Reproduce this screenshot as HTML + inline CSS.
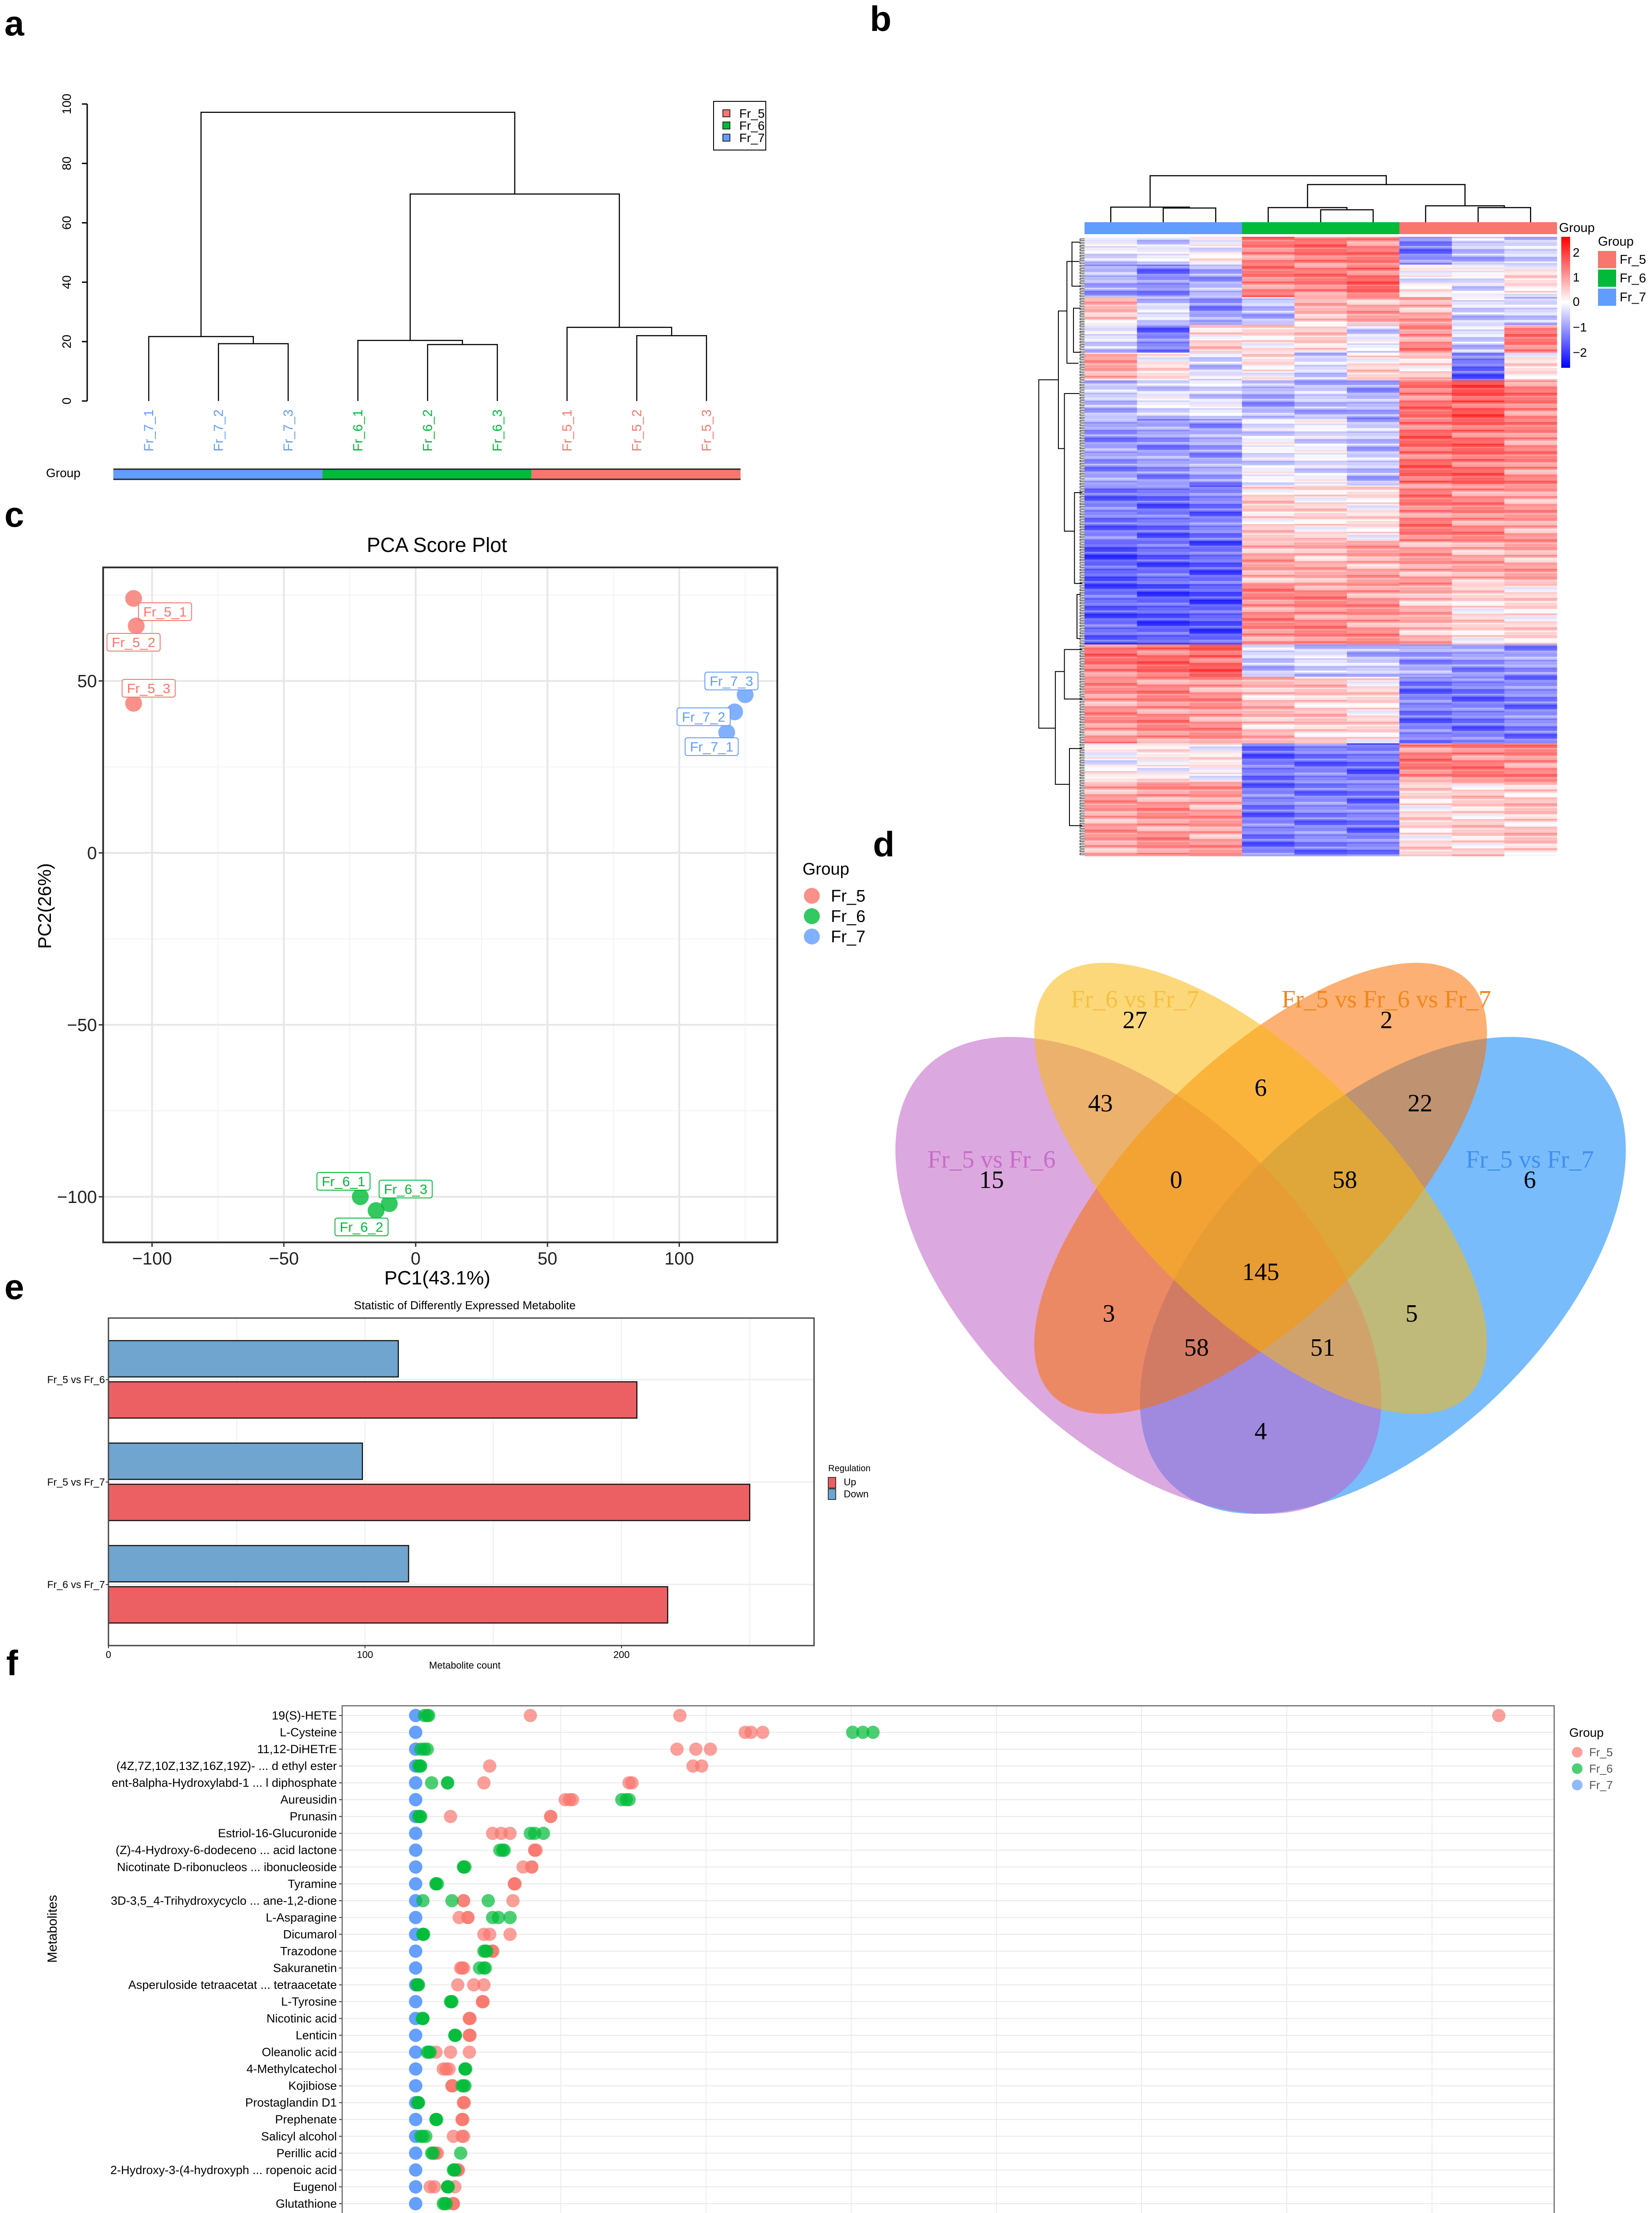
<!DOCTYPE html>
<html><head><meta charset="utf-8">
<style>
html,body{margin:0;padding:0;background:#fff;overflow:hidden;width:3732px;height:5094px;}
svg{display:block;}
text{font-family:"Liberation Sans Narrow","Liberation Sans",sans-serif;}
.serif{font-family:"Liberation Serif",serif;}
.lab{font-family:"Liberation Sans",sans-serif;font-weight:bold;}
</style></head>
<body>
<svg id="fig" xmlns="http://www.w3.org/2000/svg" width="3732" height="5094" viewBox="0 0 3732 5094">
<rect x="0" y="0" width="3732" height="5094" fill="#fff"/>
<text class="lab" x="10" y="80" font-size="80">a</text>
<text class="lab" x="1965" y="70" font-size="80">b</text>
<text class="lab" x="10" y="1190" font-size="80">c</text>
<text class="lab" x="1972" y="1935" font-size="80">d</text>
<text class="lab" x="10" y="2935" font-size="80">e</text>
<text class="lab" x="14" y="3785" font-size="80">f</text>
<g id="pa"></g>
<g id="pb"></g>
<g id="pc"></g>
<g id="pd"></g>
<g id="pe"></g>
<g id="pf"></g>
</svg>
<script>
const NS='http://www.w3.org/2000/svg';
function mk(tag,attrs,parent,txt){const e=document.createElementNS(NS,tag);for(const k in attrs)e.setAttribute(k,attrs[k]);if(txt!==undefined)e.textContent=txt;parent.appendChild(e);return e;}
const C5='#F8766D',C6='#00BA38',C7='#619CFF';

/* ---------- Panel a data ---------- */
const aLeaves=['Fr_7_1','Fr_7_2','Fr_7_3','Fr_6_1','Fr_6_2','Fr_6_3','Fr_5_1','Fr_5_2','Fr_5_3'];
const aLeafGroup=[7,7,7,6,6,6,5,5,5];
const aMergeLeft=[1,0,4,3,7,6,12,10];
const aMergeRight=[2,9,5,11,8,13,14,15];
const aMergeHeight=[19.3,21.7,19.0,20.4,22.0,24.8,69.7,97.2];
const aTicks=[0,20,40,60,80,100];

/* ---------- Panel c data ---------- */
const pcaNames=['Fr_5_1','Fr_5_2','Fr_5_3','Fr_6_1','Fr_6_2','Fr_6_3','Fr_7_1','Fr_7_2','Fr_7_3'];
const pcaGroup=[5,5,5,6,6,6,7,7,7];
const pcaPC1=[-107,-106,-107,-21,-15,-10,118,121,125];
const pcaPC2=[74,66,43.5,-100,-104,-102,35,41,46];
const pcaXTicks=[-100,-50,0,50,100];
const pcaYTicks=[-100,-50,0,50];

/* ---------- Panel e data ---------- */
const eCategories=['Fr_5 vs Fr_6','Fr_5 vs Fr_7','Fr_6 vs Fr_7'];
const eDown=[113,99,117];
const eUp=[206,250,218];
const eTicks=[0,100,200];

/* ---------- Panel f data ---------- */
const fNames=['19(S)-HETE','L-Cysteine','11,12-DiHETrE','(4Z,7Z,10Z,13Z,16Z,19Z)- ... d ethyl ester','ent-8alpha-Hydroxylabd-1 ... l diphosphate','Aureusidin','Prunasin','Estriol-16-Glucuronide','(Z)-4-Hydroxy-6-dodeceno ...  acid lactone','Nicotinate D-ribonucleos ... ibonucleoside','Tyramine','3D-3,5_4-Trihydroxycyclo ... ane-1,2-dione','L-Asparagine','Dicumarol','Trazodone','Sakuranetin','Asperuloside tetraacetat ...  tetraacetate','L-Tyrosine','Nicotinic acid','Lenticin','Oleanolic acid','4-Methylcatechol','Kojibiose','Prostaglandin D1','Prephenate','Salicyl alcohol','Perillic acid','2-Hydroxy-3-(4-hydroxyph ... ropenoic acid','Eugenol','Glutathione','Kaempferide','L-Arginine'];
const fBlue=[[0,0,0],[0,0,0],[0,0,0],[0,0,0],[0,0,0],[0,0,0],[0,0,0],[0,0,0],[0,0,0],[0,0,0],[0,0,0],[0,0,0],[0,0,0],[0,0,0],[0,0,0],[0,0,0],[0,0,0],[0,0,0],[0,0,0],[0,0,0],[0,0,0],[0,0,0],[0,0,0],[0,0,0],[0,0,0],[0,0,0],[0,0,0],[0,0,0],[0,0,0],[0,0,0],[0,0,0],[0,0,0]];
const fGreen=[[0.06,0.08,0.09],[3.01,3.08,3.15],[0.035,0.06,0.08],[0.02,0.035,0.03],[0.11,0.22,0.22],[1.42,1.45,1.47],[0.02,0.035,0.03],[0.79,0.82,0.88],[0.58,0.60,0.61],[0.33,0.33,0.34],[0.14,0.14,0.15],[0.05,0.25,0.50],[0.53,0.57,0.65],[0.05,0.055,0.05],[0.47,0.49,0.48],[0.44,0.47,0.48],[0.01,0.02,0.015],[0.24,0.25,0.245],[0.05,0.05,0.045],[0.27,0.27,0.275],[0.08,0.10,0.09],[0.34,0.34,0.345],[0.32,0.34,0.33],[0.016,0.016,0.02],[0.14,0.14,0.145],[0.035,0.07,0.05],[0.11,0.31,0.12],[0.26,0.27,0.265],[0.22,0.22,0.225],[0.19,0.21,0.20],[0.20,0.20,0.205],[0.14,0.14,0.145]];
const fRed=[[0.79,1.82,7.46],[2.27,2.31,2.39],[1.80,1.93,2.03],[0.51,1.91,1.97],[0.47,1.47,1.49],[1.03,1.06,1.08],[0.24,0.93,0.93],[0.53,0.59,0.65],[0.82,0.82,0.83],[0.74,0.80,0.80],[0.68,0.68,0.685],[0.33,0.67,0.33],[0.30,0.36,0.36],[0.47,0.51,0.65],[0.53,0.53,0.53],[0.31,0.33,0.32],[0.29,0.40,0.47],[0.46,0.46,0.465],[0.37,0.37,0.375],[0.37,0.37,0.375],[0.14,0.24,0.37],[0.19,0.23,0.21],[0.25,0.25,0.255],[0.33,0.33,0.335],[0.32,0.32,0.325],[0.26,0.33,0.32],[0.13,0.15,0.14],[0.29,0.29,0.295],[0.10,0.13,0.27],[0.26,0.26,0.255],[0.19,0.22,0.21],[0.21,0.21,0.215]];

/* ---------- Panel b heatmap data (block rows, 9 samples) ---------- */
const hmBlockRows=[18,21,18,18,18,25,43,36,28,39,21,43,25,48];
const hmBlockValues=[
[-0.3,-0.3,0,1.2,1.3,1.2,-1.2,-0.6,-0.5],
[-0.8,-1.2,-0.8,1.2,1.2,1.4,0,-0.2,0.2],
[0.6,-0.4,-1,-0.6,0.6,0.8,0.8,-0.4,-0.5],
[-0.4,-1.3,0.4,0.3,0.4,-0.3,1.1,-0.4,1.2],
[0.8,0.2,-0.4,0.2,-0.5,0.3,0.4,-1.4,0.2],
[-0.6,-0.3,-0.3,-0.8,-0.6,-0.8,1.3,1.6,1.2],
[-1.0,-1.0,-0.9,-0.2,-0.2,-0.6,1.4,1.4,1.1],
[-1.3,-1.4,-1.3,0.4,0.3,0.2,1.2,1.1,0.9],
[-1.6,-1.5,-1.5,0.8,0.7,0.8,0.9,0.8,0.8],
[-1.5,-1.6,-1.6,1.1,1.1,1.0,0.7,0.3,0.3],
[1.3,1.4,1.5,-0.5,-0.4,-0.6,-0.9,-1.0,-1.0],
[1.0,1.1,1.0,0.6,0.5,0.3,-1.3,-1.3,-1.2],
[0,0.1,0.1,-1.4,-1.3,-1.4,1.2,1.2,1.1],
[0.9,1.0,0.9,-1.3,-1.2,-1.3,0.3,0.4,0.5]];
const hmStripe=[0.2,-0.35,0.05,0.4,-0.15,-0.5,0.3,0.1,-0.25,0.55,-0.05,0.15,-0.4,0.25,0,-0.2,0.35,-0.6,0.1];

/* ===== Panel a ===== */
(function(){
const g=document.getElementById('pa');
const yA=v=>906-v*6.71, leafX=i=>336+157.5*i;
mk('line',{x1:197,y1:yA(0),x2:197,y2:yA(100),stroke:'#000','stroke-width':3},g);
aTicks.forEach(t=>{
 mk('line',{x1:185,y1:yA(t),x2:197,y2:yA(t),stroke:'#000','stroke-width':3},g);
 const tx=mk('text',{x:0,y:0,'font-size':28,'text-anchor':'middle',transform:`translate(160,${yA(t)}) rotate(-90)`},g,String(t));
 
 
});
const nx=[],nh=[];
aLeaves.forEach((n,i)=>{nx.push(leafX(i));nh.push(0);
 const col=aLeafGroup[i]===5?C5:aLeafGroup[i]===6?C6:C7;
 const t=mk('text',{x:0,y:0,'font-size':30,fill:col,'text-anchor':'end',transform:`translate(${leafX(i)+10},925) rotate(-90)`},g,n);
 
 
});
aMergeHeight.forEach((h,k)=>{
 const l=aMergeLeft[k],r=aMergeRight[k];
 const p=mk('path',{d:`M${nx[l]},${yA(nh[l])}V${yA(h)}H${nx[r]}V${yA(nh[r])}`,fill:'none',stroke:'#000','stroke-width':2.5},g);
 
 
 nx.push((nx[l]+nx[r])/2);nh.push(h);
});
const gw=(1673-256)/3;[C7,C6,C5].forEach((c,i)=>{const r=mk('rect',{x:256+gw*i,y:1061,width:gw,height:21,fill:c},g);});
mk('line',{x1:256,y1:1060,x2:1673,y2:1060,stroke:'#222','stroke-width':3},g);
mk('line',{x1:256,y1:1083,x2:1673,y2:1083,stroke:'#222','stroke-width':3},g);
const gt=mk('text',{x:104,y:1078,'font-size':28},g,'Group');
const lg=mk('g',{},g);
mk('rect',{x:1612,y:229,width:118,height:110,fill:'#fff',stroke:'#000','stroke-width':2},lg);
[['Fr_5',C5],['Fr_6',C6],['Fr_7',C7]].forEach((e,i)=>{
 const y=256+27.5*i;
 const r=mk('rect',{x:1633,y:y-8,width:16,height:16,fill:e[1],stroke:'#000','stroke-width':1.5},lg);
 
 const t=mk('text',{x:1670,y:y+10,'font-size':28},lg,e[0]);
 
});
})();

/* ===== Panel b ===== */
(function(){
const g=document.getElementById('pb');
const X0=2450,X1=3517,Y0=535,Y1=1934,cw=(X1-X0)/9;
const total=hmBlockRows.reduce((a,b)=>a+b,0), rh=(Y1-Y0)/total;
function col(v){v=Math.max(-2.5,Math.min(2.5,v));if(v>=0){const t=v/2.5;return `rgb(255,${Math.round(255-255*t)},${Math.round(255-255*t)})`;}const t=-v/2.5;return `rgb(${Math.round(255-255*t)},${Math.round(255-255*t)},255)`;}
let r=0;
const hm=mk('g',{},g);
hmBlockRows.forEach((n,b)=>{for(let k=0;k<n;k++){for(let c=0;c<9;c++){
 const v=hmBlockValues[b][c]+hmStripe[(r*7+c*3)%hmStripe.length];
 const cell=mk('rect',{x:X0+c*cw,y:Y0+r*rh,width:cw+0.6,height:rh+0.6,fill:col(v)},hm);
 
}r++;}});
const bars=[C7,C7,C7,C6,C6,C6,C5,C5,C5];
bars.forEach((c,i)=>{const e=mk('rect',{x:X0+i*cw,y:502,width:cw+0.5,height:27,fill:c},g);});
const cx=i=>X0+cw*(i+0.5);
const d=`M${cx(1)},502V470H${cx(2)}V502 M${cx(0)},502V468H${(cx(1)+cx(2))/2}V470 M${cx(4)},502V474H${cx(5)}V502 M${cx(3)},502V469H${(cx(4)+cx(5))/2}V474 M${cx(7)},502V469H${cx(8)}V502 M${cx(6)},502V465H${(cx(7)+cx(8))/2}V469 M${(cx(3)+(cx(4)+cx(5))/2)/2},469V417H${(cx(6)+(cx(7)+cx(8))/2)/2}V465 M${(cx(0)+(cx(1)+cx(2))/2)/2},468V397H${((cx(3)+(cx(4)+cx(5))/2)/2+(cx(6)+(cx(7)+cx(8))/2)/2)/2}V417`;
const td=mk('path',{d:d,fill:'none',stroke:'#000','stroke-width':2.5},g);
const lt=mk('g',{transform:'translate(1950,0) scale(1.1365,1.2436)'},g);
const segs=['M388,690H349V1323H382','M405,565H388V815H400','M430,475H405V660H428','M430,715H400V965H420','M435,895H420V1060H435','M400,1220H382V1425H410','M435,1180H400V1270H435','M435,1360H410V1500H435','M432,440H415V520H432','M432,560H418V640H432','M432,1080H425V1160H432'];
segs.forEach(s=>mk('path',{d:s,fill:'none',stroke:'#000','stroke-width':2,'vector-effect':'non-scaling-stroke'},lt));
let tk='';for(let y=434;y<1553;y+=6){tk+=`M440,${y}H431V${y+3}H440`;}
mk('path',{d:tk,fill:'none',stroke:'#000','stroke-width':1.2,'vector-effect':'non-scaling-stroke'},lt);
const gr=mk('linearGradient',{id:'hmg',x1:0,y1:0,x2:0,y2:1},g);
mk('stop',{offset:'0','stop-color':'#ff0000'},gr);mk('stop',{offset:'0.5','stop-color':'#ffffff'},gr);mk('stop',{offset:'1','stop-color':'#0000ff'},gr);
const cb=mk('rect',{x:3527,y:535,width:20,height:296,fill:'url(#hmg)'},g);
[['2',570],['1',626],['0',681],['\u22121',739],['\u22122',796]].forEach(e=>{const t=mk('text',{x:3553,y:e[1]+10,'font-size':28},g,e[0]);t.setAttribute('style','font-family:"Liberation Sans",sans-serif');});
const g1=mk('text',{x:3522,y:524,'font-size':29,style:'font-family:"Liberation Sans",sans-serif'},g,'Group');
const g2=mk('text',{x:3610,y:555,'font-size':29,style:'font-family:"Liberation Sans",sans-serif'},g,'Group');
[['Fr_5',C5,567],['Fr_6',C6,609],['Fr_7',C7,652]].forEach(e=>{
 const r=mk('rect',{x:3610,y:e[2],width:41,height:39,fill:e[1]},g);
 const t=mk('text',{x:3659,y:e[2]+29,'font-size':29,style:'font-family:"Liberation Sans",sans-serif'},g,e[0]);
});
})();

/* ===== Panel c ===== */
(function(){
const g=document.getElementById('pc');
const xC=v=>939+v*5.955, yC=v=>1927-v*7.77;
const L=233,R=1756,T=1282,B=2807;
[-75,-25,25,75,125].forEach(v=>{if(xC(v)>L&&xC(v)<R)mk('line',{x1:xC(v),y1:T,x2:xC(v),y2:B,stroke:'#f2f2f2','stroke-width':2},g);});
[-75,-25,25,75].forEach(v=>mk('line',{x1:L,y1:yC(v),x2:R,y2:yC(v),stroke:'#f2f2f2','stroke-width':2},g));
pcaXTicks.forEach(v=>{mk('line',{x1:xC(v),y1:T,x2:xC(v),y2:B,stroke:'#e6e6e6','stroke-width':4},g);
 mk('line',{x1:xC(v),y1:B,x2:xC(v),y2:B+10,stroke:'#333','stroke-width':3},g);
 const t=mk('text',{x:xC(v),y:B+50,'font-size':40,'text-anchor':'middle',fill:'#222'},g,String(v).replace('-','\u2212'));
 });
pcaYTicks.forEach(v=>{mk('line',{x1:L,y1:yC(v),x2:R,y2:yC(v),stroke:'#e6e6e6','stroke-width':4},g);
 mk('line',{x1:L-10,y1:yC(v),x2:L,y2:yC(v),stroke:'#333','stroke-width':3},g);
 const t=mk('text',{x:L-14,y:yC(v)+14,'font-size':40,'text-anchor':'end',fill:'#222'},g,String(v).replace('-','\u2212'));
 });
const fr=mk('rect',{x:L,y:T,width:R-L,height:B-T,fill:'none',stroke:'#333','stroke-width':4},g);
const ti=mk('text',{x:987,y:1247,'font-size':46,'text-anchor':'middle'},g,'PCA Score Plot');
const xt=mk('text',{x:988,y:2902,'font-size':44,'text-anchor':'middle'},g,'PC1(43.1%)');
const yt=mk('text',{x:0,y:0,'font-size':42,'text-anchor':'middle',transform:'translate(115,2047) rotate(-90)',style:'font-family:"Liberation Sans",sans-serif'},g,'PC2(26%)');
const lblDX=[71,-6,34,-38,-33,37,-34,-70,-31], lblDY=[30,37,-34,-35,37,-33,32,11,-31];
pcaPC1.forEach((v,i)=>{
 const c=pcaGroup[i]===5?C5:pcaGroup[i]===6?C6:C7;
 const p=mk('circle',{cx:xC(v),cy:yC(pcaPC2[i]),r:19,fill:c,'fill-opacity':0.8},g);
 
 
 const bx=xC(v)+lblDX[i],by=yC(pcaPC2[i])+lblDY[i];
 mk('rect',{x:bx-60,y:by-20,width:120,height:40,rx:5,fill:'#fff',stroke:c,'stroke-width':2},g);
 const t=mk('text',{x:bx,y:by+11,'font-size':31,'text-anchor':'middle',fill:c},g,pcaNames[i]);
 
});
const lt=mk('text',{x:1813,y:1976,'font-size':38},g,'Group');
[['Fr_5',C5],['Fr_6',C6],['Fr_7',C7]].forEach((e,i)=>{const y=2024+46*i;
 const c=mk('circle',{cx:1834,cy:y,r:18,fill:e[1],'fill-opacity':0.8},g);
 const t=mk('text',{x:1877,y:y+13,'font-size':38},g,e[0]);});
})();

/* ===== Panel d ===== */
(function(){
const g=document.getElementById('pd');
const tg=mk('g',{transform:'translate(1950,1900) scale(1.1365,0.9885)'},g);
const ells=[[1033,993,638,351,-51.5,'#0985F9','venn-set-fr5-vs-fr7'],[547,993,638,351,51.5,'#C060C6','venn-set-fr5-vs-fr6'],[790,794,630,267,-50.6,'#F96F00','venn-set-fr5-fr6-fr7'],[790,794,630,267,50.6,'#F9B80D','venn-set-fr6-vs-fr7']];
ells.forEach(e=>{const el=mk('ellipse',{cx:0,cy:0,rx:e[2],ry:e[3],fill:e[5],'fill-opacity':0.55,transform:`translate(${e[0]},${e[1]}) rotate(${e[4]})`},tg);});
const labs=[['Fr_6 vs Fr_7',2564,2258,'#F5C040'],['Fr_5 vs Fr_6 vs Fr_7',3132,2258,'#F2861A'],['Fr_5 vs Fr_6',2240,2620,'#C86CC8'],['Fr_5 vs Fr_7',3456,2620,'#3F8FF0']];
labs.forEach(l=>{const t=mk('text',{x:l[1],y:l[2],'font-size':56,'text-anchor':'middle','dominant-baseline':'central',fill:l[3],class:'serif'},g,l[0]);});
const nums=[['27',2564,2305],['2',3132,2305],['15',2240,2666],['6',3456,2666],['6',2848,2458],['43',2486,2493],['22',3208,2493],['0',2657,2666],['58',3038,2666],['145',2848,2874],['3',2505,2968],['5',3189,2968],['58',2703,3045],['51',2988,3045],['4',2848,3234]];
nums.forEach(n=>{const t=mk('text',{x:n[1],y:n[2],'font-size':56,'text-anchor':'middle','dominant-baseline':'central',fill:'#000',class:'serif'},g,n[0]);});
})();

/* ===== Panel e ===== */
(function(){
const g=document.getElementById('pe');
const xE=v=>245+v*5.795, catY=i=>3117+i*231.5;
const L=245,R=1839,T=2978,B=3718;
[50,100,150,200,250].forEach(v=>mk('line',{x1:xE(v),y1:T,x2:xE(v),y2:B,stroke:'#eeeeee','stroke-width':2},g));
eCategories.forEach((c,i)=>{mk('line',{x1:L,y1:catY(i),x2:R,y2:catY(i),stroke:'#eeeeee','stroke-width':3},g);});
eCategories.forEach((c,i)=>{
 const d=mk('rect',{x:xE(0),y:catY(i)-88,width:xE(eDown[i])-xE(0),height:82,fill:'#6FA5CF',stroke:'#111','stroke-width':2.5},g);
 
 
 const u=mk('rect',{x:xE(0),y:catY(i)+5,width:xE(eUp[i])-xE(0),height:82,fill:'#EC6063',stroke:'#111','stroke-width':2.5},g);
 
 
 mk('line',{x1:L-6,y1:catY(i),x2:L,y2:catY(i),stroke:'#333','stroke-width':2},g);
 const t=mk('text',{x:L-8,y:catY(i)+8,'font-size':23,'text-anchor':'end'},g,c);
 
});
const fr=mk('rect',{x:L,y:T,width:R-L,height:B-T,fill:'none',stroke:'#444','stroke-width':3},g);
eTicks.forEach(v=>{mk('line',{x1:xE(v),y1:B,x2:xE(v),y2:B+6,stroke:'#333','stroke-width':2},g);
 const t=mk('text',{x:xE(v),y:B+28,'font-size':22,'text-anchor':'middle'},g,String(v));});
const ti=mk('text',{x:1050,y:2958,'font-size':26,'text-anchor':'middle'},g,'Statistic of Differently Expressed Metabolite');
const xt=mk('text',{x:1050,y:3770,'font-size':22,'text-anchor':'middle'},g,'Metabolite count');
const lt=mk('text',{x:1871,y:3324,'font-size':20},g,'Regulation');
const r1=mk('rect',{x:1871,y:3338,width:17,height:24,fill:'#EC6063',stroke:'#111','stroke-width':1.5},g);
const r2=mk('rect',{x:1871,y:3364,width:17,height:24,fill:'#6FA5CF',stroke:'#111','stroke-width':1.5},g);
const t1=mk('text',{x:1906,y:3356,'font-size':22},g,'Up');
const t2=mk('text',{x:1906,y:3383,'font-size':22},g,'Down');
})();

/* ===== Panel f ===== */
(function(){
const g=document.getElementById('pf');
const xF=v=>939+v*328, rowY=i=>3876+i*38.03;
const L=773,R=3511,T=3854,B=5094;
for(let k=1;k<=7;k++)mk('line',{x1:xF(k),y1:T,x2:xF(k),y2:B,stroke:'#ececec','stroke-width':2},g);
fNames.forEach((n,i)=>{
 mk('line',{x1:L,y1:rowY(i),x2:R,y2:rowY(i),stroke:'#e8e8e8','stroke-width':2},g);
 mk('line',{x1:L-7,y1:rowY(i),x2:L,y2:rowY(i),stroke:'#333','stroke-width':2},g);
 const t=mk('text',{x:L-12,y:rowY(i)+9,'font-size':27,'text-anchor':'end'},g,n);
 
});
mk('path',{d:`M${L},${B}V${T}H${R}V${B}`,fill:'none',stroke:'#666','stroke-width':2.5},g);
const series=[[fBlue,C7,'point-fr7'],[fRed,C5,'point-fr5'],[fGreen,C6,'point-fr6']];
series.forEach(s=>{s[0].forEach((vals,i)=>{vals.forEach(v=>{
 const c=mk('circle',{cx:xF(v),cy:rowY(i),r:15,fill:s[1],'fill-opacity':0.7},g);
 
 
});});});
const yt=mk('text',{x:0,y:0,'font-size':30,'text-anchor':'middle',transform:'translate(128,4358) rotate(-90)',style:'font-family:"Liberation Sans",sans-serif'},g,'Metabolites');
const lt=mk('text',{x:3545,y:3924,'font-size':28},g,'Group');
[['Fr_5',C5],['Fr_6',C6],['Fr_7',C7]].forEach((e,i)=>{const y=3959+37*i;
 const c=mk('circle',{cx:3563,cy:y,r:12,fill:e[1],'fill-opacity':0.7},g);
 const t=mk('text',{x:3590,y:y+9,'font-size':26,fill:'#555'},g,e[0]);});
})();
</script>
</body></html>
